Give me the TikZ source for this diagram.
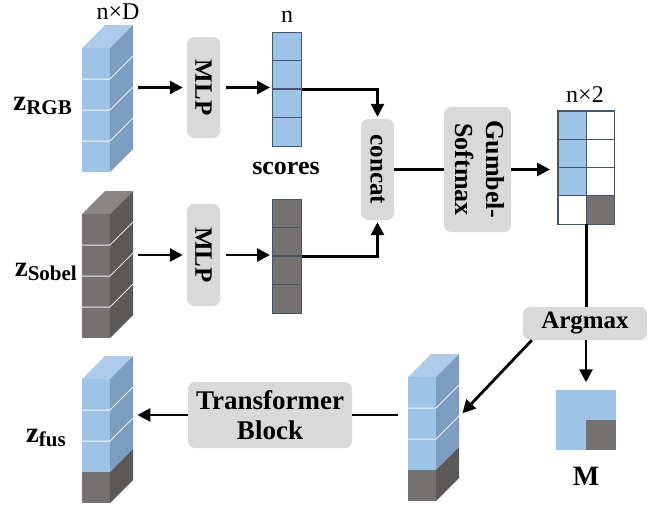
\documentclass[tikz,border=0pt]{standalone}
\usepackage{fontspec}
\setmainfont{Liberation Serif}
\usetikzlibrary{arrows.meta}

\definecolor{blueF}{HTML}{9DC3E6}
\definecolor{blueS}{HTML}{7C9CC0}
\definecolor{blueT}{HTML}{AECBEB}
\definecolor{grayF}{HTML}{767171}
\definecolor{grayS}{HTML}{5B5858}
\definecolor{grayT}{HTML}{8A8686}
\definecolor{boxgray}{HTML}{D9D9D9}
\definecolor{cellline}{HTML}{44546A}

\tikzset{
  op/.style={fill=boxgray, rounded corners=7pt, inner sep=0pt, align=center,
    font=\bfseries\fontsize{25}{30}\selectfont},
  arr/.style={line width=2.8pt, -{Triangle[length=13pt,width=13pt]}},
  link/.style={line width=2.8pt},
  cellc/.style={draw=cellline, line width=1.3pt},
  sepline/.style={white, line width=1pt, opacity=0.85},
  stackface/.style={inner sep=0pt, minimum width=28pt, minimum height=124pt},
  dimlab/.style={font=\fontsize{24}{24}\selectfont},
  boldlab/.style={font=\bfseries\fontsize{26}{26}\selectfont},
  zlab/.style={font=\bfseries\fontsize{29}{29}\selectfont, anchor=east, inner sep=0pt}
}

% stacked feature block: name, x, y (top of front face), colours, separators
\newcommand{\featstack}[5]{%
  \begin{scope}[shift={(#2,#3)}]
    \foreach \col [count=\i from 0] in {#4} {
      \ifnum\i=0 \path[fill=\col T] (0,0) -- (23,-23) -- (51,-23) -- (28,0) -- cycle; \fi
      \path[fill=\col F] (0,\i*31) rectangle (28,\i*31+31);
      \path[fill=\col S] (28,\i*31) -- (51,\i*31-23) -- (51,\i*31+8) -- (28,\i*31+31) -- cycle;
    }
    \foreach \j in {#5}
      \draw[sepline] (0,\j*31) -- (28,\j*31) -- (51,\j*31-23);
    \node[stackface, anchor=north west] (#1) at (0,0) {};
  \end{scope}}
\newcommand{\zsub}[1]{z\raisebox{-4pt}{\fontsize{21}{21}\selectfont #1}}

\begin{document}
\begin{tikzpicture}[x=1pt, y=-1pt]
\useasboundingbox (0,0) rectangle (656,506);

% feature stacks
\featstack{rgb}{82}{48}{blue,blue,blue,blue}{1,2,3}
\featstack{sob}{82}{214}{gray,gray,gray,gray}{1,2,3}
\featstack{fus}{82}{379}{blue,blue,blue,gray}{1,2}
\featstack{mid}{408}{377}{blue,blue,blue,gray}{1,2}

\node[zlab] (zrgb) at (72,106) {\zsub{RGB}};
\node[zlab] (zsob) at (77,272) {\zsub{Sobel}};
\node[zlab] (zfus) at (66,438) {\zsub{fus}};
\node[dimlab] (ndlab) at (118,12) {n×D};

% operations
\node[op, minimum width=33pt, minimum height=101pt] (mlp1) at (203.5,87.5) {\rotatebox{-90}{MLP}};
\node[op, minimum width=33pt, minimum height=102pt] (mlp2) at (203.5,255) {\rotatebox{-90}{MLP}};
\node[op, minimum width=33pt, minimum height=101pt] (cc) at (377.5,169.5) {\rotatebox{-90}{concat}};
\node[op, minimum width=67pt, minimum height=125pt, font=\bfseries\fontsize{26}{31}\selectfont] (gs) at (477.5,169.5)
  {\rotatebox{-90}{\begin{tabular}{@{}c@{}}Gumbel-\\Softmax\end{tabular}}};
\node[op, minimum width=124pt, minimum height=33pt] (am) at (585,323.5) {Argmax};
\node[op, minimum width=164pt, minimum height=66pt, font=\bfseries\fontsize{27}{30}\selectfont] (tb) at (270,415) {Transformer\\Block};

% score vectors
\node[cellc, fill=blueF, inner sep=0pt, minimum width=29pt, minimum height=114pt, anchor=north west] (sc) at (272,32) {};
\node[cellc, fill=grayF, inner sep=0pt, minimum width=29pt, minimum height=114pt, anchor=north west] (gv) at (272,199) {};
\foreach \k in {1,2,3} {
  \draw[cellc] ([yshift=-\k*28.5pt]sc.north west) -- ([yshift=-\k*28.5pt]sc.north east);
  \draw[cellc] ([yshift=-\k*28.5pt]gv.north west) -- ([yshift=-\k*28.5pt]gv.north east);
}
\node[dimlab] (nlab) at (287,17) {n};
\node[boldlab] (sclab) at (286,168) {scores};

% n x 2 matrix
\node[inner sep=0pt, minimum width=56pt, minimum height=113pt, anchor=north west] (mat) at (558,111) {};
\path[fill=blueF] (mat.north west) rectangle ([xshift=28pt,yshift=-84.75pt]mat.north west);
\path[fill=grayF] ([xshift=28pt,yshift=-84.75pt]mat.north west) rectangle (mat.south east);
\foreach \k in {1,2,3}
  \draw[cellc] ([yshift=-\k*28.25pt]mat.north west) -- ([yshift=-\k*28.25pt]mat.north east);
\draw[cellc] (mat.north) -- (mat.south);
\draw[cellc] (mat.north west) rectangle (mat.south east);
\node[dimlab] (n2lab) at (585,95) {n×2};

% mask M
\node[fill=blueF, inner sep=0pt, minimum size=60pt] (msq) at (586,419.5) {};
\path[fill=grayF] (msq.center) rectangle (msq.south east);
\node[boldlab, font=\bfseries\fontsize{28}{28}\selectfont] (mlab) at (586,476) {M};

% connectors
\path ([xshift=28pt]rgb.east) coordinate (rgbout);
\path ([xshift=28pt]sob.east) coordinate (sobout);
\path ([xshift=-10pt]mid.west) coordinate (midin);
\path ([xshift=27pt]fus.east) coordinate (fusin);

\draw[arr, shorten >=4pt] (rgbout |- mlp1.west) -- (mlp1.west);
\draw[arr, shorten >=4pt] (sobout |- mlp2.west) -- (mlp2.west);
\draw[arr, shorten <=6pt, shorten >=2pt] (mlp1.east) -- (mlp1.east -| sc.west);
\draw[arr, shorten <=6pt, shorten >=2pt] (mlp2.east) -- (mlp2.east -| gv.west);
\draw[arr, shorten >=2pt] (sc.east) -| (cc.north);
\draw[arr, shorten >=2pt] (gv.east) -| (cc.south);
\draw[link] (cc.east) -- (gs.west);
\draw[arr, shorten >=8pt] (gs.east) -- (gs.east -| mat.west);
\draw[link] (mat.south) -- (mat.south |- am.north);
\draw[arr, shorten >=7pt] (am.south -| msq.north) -- (msq.north);
\draw[arr] ([xshift=9pt]am.south west) -- ([xshift=26pt,yshift=26pt]mid.east);
\draw[link] (midin |- tb.east) -- (tb.east);
\draw[arr] (tb.west) -- (fusin |- tb.west);
\end{tikzpicture}
\end{document}
